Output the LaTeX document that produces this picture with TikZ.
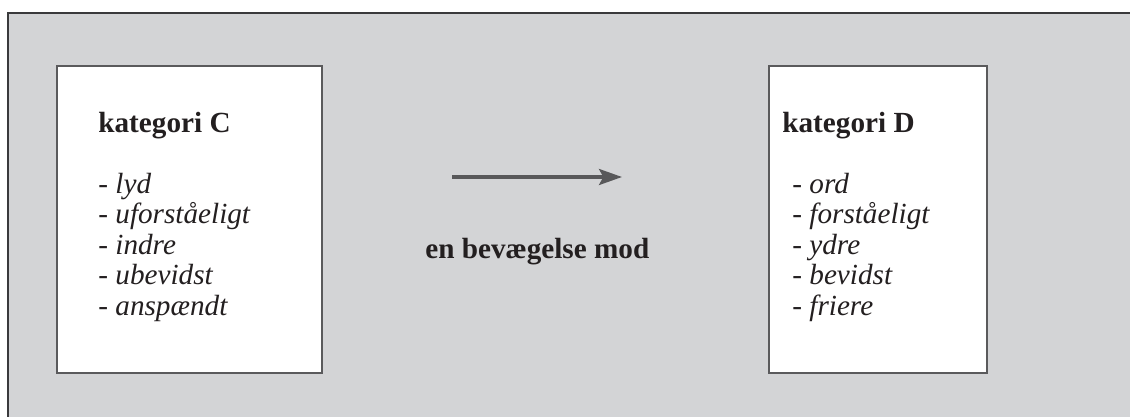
\documentclass[tikz,border=0pt]{standalone}
\usepackage{fontspec}
\setmainfont{Liberation Serif}
\usetikzlibrary{arrows.meta}
\definecolor{panelgray}{HTML}{D3D4D6}
\definecolor{framegray}{HTML}{3A3A3C}
\definecolor{boxline}{HTML}{5A5A5C}
\definecolor{arrowgray}{HTML}{58585A}
\definecolor{inkblack}{HTML}{231F20}
\tikzset{
  catbox/.style={draw=boxline, line width=0.75pt, fill=white, inner sep=0pt},
  heading/.style={anchor=base west, inner sep=0pt, font=\fontsize{14.6pt}{15pt}\selectfont\bfseries, text=inkblack},
  listitem/.style={anchor=base west, inner sep=0pt, text=inkblack,
    font=\fontsize{14.6pt}{15pt}\selectfont},
  movearrow/.style={draw=arrowgray, line width=1.65pt,
    -{Stealth[length=11.5pt, width=8pt, inset=2.2pt]}}
}
\begin{document}
\begin{tikzpicture}[x=0.5pt, y=-0.5pt]
  \useasboundingbox (0,0) rectangle (1130,417);
  \clip (0,0) rectangle (1130,417);
  % outer panel, running off the right and bottom edges
  \draw[draw=framegray, line width=1pt, fill=panelgray] (8,13) rectangle (1150,440);

  % the two category boxes
  \node[catbox, minimum width=132.5pt, minimum height=153.5pt] (boxC) at (189.5,219.5) {};
  \node[catbox, minimum width=109pt, minimum height=153.5pt] (boxD) at (878,219.5) {};

  % headings
  \node[heading] (headC) at (98,133) {kategori C};
  \node[heading] (headD) at (782,133) {kategori D};

  % lists, one line per node
  \foreach \word [count=\i] in {lyd, uforståeligt, indre, ubevidst, anspændt}
    \node[listitem] (itemC\i) at (98,{193+30.5*(\i-1)}) {-\ \textit{\word}};
  \foreach \word [count=\i] in {ord, forståeligt, ydre, bevidst, friere}
    \node[listitem] (itemD\i) at (792,{193+30.5*(\i-1)}) {-\ \textit{\word}};

  % the movement between the boxes
  \coordinate (arrowstart) at (452,177);
  \coordinate (arrowend) at (622,177);
  \draw[movearrow] (arrowstart) -- (arrowend);
  \node[heading] (movelabel) at (425,258) {en bevægelse mod};
\end{tikzpicture}
\end{document}
